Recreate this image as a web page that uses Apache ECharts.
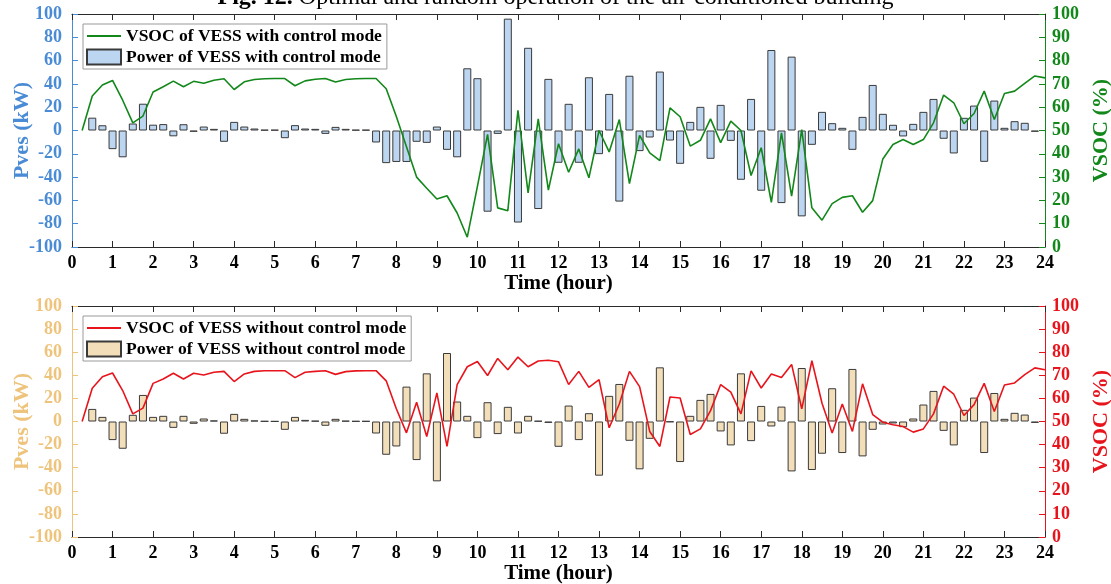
<!DOCTYPE html>
<html><head><meta charset="utf-8">
<script src="https://cdn.jsdelivr.net/npm/echarts@6/dist/echarts.min.js"></script>
<style>html,body{margin:0;padding:0;background:#fff}#c{width:1111px;height:584px}</style>
</head><body><div id="c"></div>
<script>
// Time grid (hours): bars every 15 min from 0.5 h, VSOC points every 15 min from 0.25 h
const barStartHour = 0.5;
const lineStartHour = 0.25;
const stepHour = 0.25;

const powerWithControl = [
 11, 4.5, -16, -23, 6, 23, 5, 5.5, -5, 5.4, -1.1, 3.4, 1.4, -9.7, 7.4, 3.4, 1.7, 0.6, 0.6, -6.6,
 4.6, 1.7, 1.4, -2.9, 3.1, 1.4, 0.6, 0.6, -10.3, -28, -27, -27, -9.7, -10.6, 3.4, -16.6, -23, 53.4, 44.9, -69.7,
 -2.9, 96, -79, 71, -67.4, 44.3, -27.7, 22.9, -27.7, 45.7, -20.3, 31.4, -61, 47, -17.7, -6, 50.6, -8.6, -28.6, 7.4,
 20.3, -24.3, 22, -8.9, -42.3, 27.1, -51.7, 69.1, -62.3, 63.4, -73.7, -12.3, 16, 6.3, 2.3, -16.6, 11.7, 39.1, 14.3, 4.9,
 -5.1, 5.7, 16, 27.1, -7.1, -19.7, 10.9, 21.4, -26.9, 25.7, 2.3, 8, 6.6, -1.1
];
const powerWithoutControl = [
 10.9, 4, -16.1, -23.6, 5.8, 23, 4, 4.9, -5.5, 4.9, -2, 2.6, 0.9, -10.6, 6.6, 2.3, 0.9, 0.3, 0.2, -7.2,
 4, 1.4, 0.6, -3.7, 2.3, 0.6, 0.3, 0.3, -10.4, -28.8, -21.6, 30.2, -33.4, 41.7, -51.8, 59.3, 17.3, 4.9, -14.4, 16.7,
 -10.9, 12.7, -10.4, 4.9, 0.5, -1.2, -21.9, 13.8, -16.1, 7.2, -46.9, 22.2, 32.5, -16.7, -41.4, -15, 46.9, -0.5, -35.1, 4.9,
 18.7, 23.9, -8.6, -20.7, 41.7, -17, 13.5, -4.3, 12.9, -43.2, 46.3, -42, -27.9, 28.8, -27.3, 45.5, -30.2, -7.2, -2.6, -1.7,
 -4.9, 2.6, 14.7, 26.5, -8.1, -20.7, 10.1, 20.7, -27.3, 24.7, 2.3, 7.5, 6, -1.2
];
const vsocWithControl = [
 50, 64.8, 69.5, 71.5, 63, 53.3, 56.2, 66.5, 68.8, 71.2, 68.8, 71.1, 70.3, 71.6, 72.2, 67.6, 70.9, 71.9, 72.2, 72.3,
 72.3, 69.2, 71.3, 72, 72.3, 70.8, 71.9, 72.2, 72.3, 72.3, 67.9, 56, 43, 30, 25.2, 20.6, 22, 14.6, 4.2, 26,
 48.3, 16.8, 15.6, 58.7, 23.2, 55, 24.4, 44.3, 32.1, 42.1, 29.7, 50, 40.8, 54.7, 27.2, 47.9, 40.4, 37.1, 59.7, 55.9,
 43.3, 45.8, 55, 44.8, 54, 50, 30.7, 42.6, 19.2, 49, 21.8, 50.4, 16.8, 11.5, 18.6, 21.3, 22, 14.9, 19.9, 37.8,
 44, 46.1, 44, 46.1, 53.3, 65.2, 61.9, 52.9, 57.3, 66.9, 54.7, 65.9, 66.9, 70.2, 73.4, 72.6
];
const vsocWithoutControl = [
 50, 64.4, 69.4, 71, 63.4, 53.3, 55.8, 66.5, 68.4, 70.9, 68.4, 70.9, 70.1, 71.3, 71.7, 67.3, 70.6, 71.7, 72, 72,
 72, 69, 71.3, 71.7, 72, 70.4, 71.6, 71.9, 72, 72, 67.6, 55.5, 45.1, 58.3, 43.5, 62.4, 39.2, 66, 73.7, 76,
 69.9, 77.3, 72.4, 77.9, 73.7, 76.2, 76.5, 75.9, 66, 71.7, 64.8, 68.1, 47.3, 57.6, 71.7, 65.1, 45.7, 39.2, 60.6, 60.2,
 44.4, 46.8, 54.7, 66, 62.7, 53.3, 71.9, 64.5, 70.6, 69, 74.7, 55.5, 76.3, 57.9, 45, 57.6, 45.7, 66.3, 53, 49.7,
 48.6, 47.8, 45.4, 46.8, 53.3, 65.3, 61.8, 52.6, 57.3, 66.5, 54.3, 65.8, 66.7, 70.3, 73.2, 72.4
];

const nameLineWith = 'VSOC of VESS with control mode';
const nameBarWith = 'Power of VESS with control mode';
const nameLineWithout = 'VSOC of VESS without control mode';
const nameBarWithout = 'Power of VESS without control mode';
const titleBold = 'Fig. 12.';
const titleRest = ' Optimal and random operation of the air-conditioned building';
const xName = 'Time (hour)';
const yLeftName = 'Pves (kW)';
const yRightName = 'VSOC (%)';

const F = 'Liberation Serif';
const BLUE = '#4a8bd6', TAN = '#eec47c', GREEN = '#12871a', RED = '#e8141c';
const BAR_BLUE = '#bcd6f2', BAR_TAN = '#f3deba', EDGE = '#3a3a3a', DARK = '#2a2a2a';

const toPairs = (arr, start) => arr.map((v, i) => [start + i * stepHour, v]);

function xAxes(g) {
  return [
    { type: 'value', gridIndex: g, min: 0, max: 24, interval: 1, position: 'bottom',
      axisLine: { show: true, onZero: false, lineStyle: { color: DARK, width: 1 } },
      axisTick: { show: true, inside: true, length: 6, lineStyle: { color: DARK } },
      axisLabel: { show: true, color: '#000', fontFamily: F, fontWeight: 'bold', fontSize: 18, margin: 7, showMinLabel: true, showMaxLabel: true },
      splitLine: { show: false },
      name: xName, nameLocation: 'middle', nameGap: 22,
      nameTextStyle: { color: '#000', fontFamily: F, fontWeight: 'bold', fontSize: 21 } },
    { type: 'value', gridIndex: g, min: 0, max: 24, interval: 1, position: 'top',
      axisLine: { show: true, onZero: false, lineStyle: { color: DARK, width: 1 } },
      axisTick: { show: true, inside: true, length: 6, lineStyle: { color: DARK } },
      axisLabel: { show: false }, splitLine: { show: false } }
  ];
}
function yAxes(g, leftColor, rightColor) {
  return [
    { type: 'value', gridIndex: g, min: -100, max: 100, interval: 20, position: 'left',
      axisLine: { show: true, onZero: false, lineStyle: { color: leftColor, width: 1 } },
      axisTick: { show: true, inside: true, length: 6, lineStyle: { color: leftColor } },
      axisLabel: { color: leftColor, fontFamily: F, fontWeight: 'bold', fontSize: 18, margin: 10, showMinLabel: true, showMaxLabel: true },
      splitLine: { show: false },
      name: yLeftName, nameLocation: 'middle', nameGap: 39, nameMoveOverlap: false,
      nameTextStyle: { color: leftColor, fontFamily: F, fontWeight: 'bold', fontSize: 22 } },
    { type: 'value', gridIndex: g, min: 0, max: 100, interval: 10, position: 'right',
      axisLine: { show: true, onZero: false, lineStyle: { color: rightColor, width: 1 } },
      axisTick: { show: true, inside: true, length: 6, lineStyle: { color: rightColor } },
      axisLabel: { color: rightColor, fontFamily: F, fontWeight: 'bold', fontSize: 18, margin: 7, showMinLabel: true, showMaxLabel: true },
      splitLine: { show: false },
      name: yRightName, nameLocation: 'middle', nameGap: 44,
      nameTextStyle: { color: rightColor, fontFamily: F, fontWeight: 'bold', fontSize: 22 } }
  ];
}
function legend(top, lineName, barName) {
  return {
    left: 83, top: top, orient: 'vertical', padding: [3, 5, 3, 3], itemGap: 3,
    itemWidth: 34, itemHeight: 15, borderColor: '#9a9a9a', borderWidth: 1, backgroundColor: '#fff',
    textStyle: { fontFamily: F, fontWeight: 'bold', fontSize: 17.5, color: '#000' },
    data: [ { name: lineName, itemStyle: { opacity: 0 } }, { name: barName, icon: 'rect' } ]
  };
}

const chart = echarts.init(document.getElementById('c'), null, { renderer: 'canvas' });
chart.setOption({
  animation: false,
  backgroundColor: '#fff',
  title: {
    text: '{b|' + titleBold + '}{r|' + titleRest + '}', left: 'center', top: -19,
    textStyle: { rich: {
      b: { fontFamily: F, fontWeight: 'bold', fontSize: 24, color: '#000' },
      r: { fontFamily: F, fontWeight: 'normal', fontSize: 24, color: '#000' } } }
  },
  legend: [ legend(24, nameLineWith, nameBarWith), legend(316, nameLineWithout, nameBarWithout) ],
  grid: [
    { left: 72, right: 66, top: 14, height: 233, outerBoundsMode: 'none', containLabel: false },
    { left: 72, right: 66, top: 306, height: 231, outerBoundsMode: 'none', containLabel: false }
  ],
  xAxis: [...xAxes(0), ...xAxes(1)],
  yAxis: [...yAxes(0, BLUE, GREEN), ...yAxes(1, TAN, RED)],
  series: [
    { name: nameBarWith, type: 'bar', xAxisIndex: 0, yAxisIndex: 0, barWidth: 8,
      itemStyle: { color: BAR_BLUE, borderColor: EDGE, borderWidth: 1 },
      data: toPairs(powerWithControl, barStartHour), z: 2 },
    { name: nameLineWith, type: 'line', xAxisIndex: 0, yAxisIndex: 1, showSymbol: false, symbol: 'none',
      lineStyle: { color: GREEN, width: 1.6 }, itemStyle: { color: GREEN },
      data: toPairs(vsocWithControl, lineStartHour), z: 5 },
    { name: nameBarWithout, type: 'bar', xAxisIndex: 2, yAxisIndex: 2, barWidth: 8,
      itemStyle: { color: BAR_TAN, borderColor: EDGE, borderWidth: 1 },
      data: toPairs(powerWithoutControl, barStartHour), z: 2 },
    { name: nameLineWithout, type: 'line', xAxisIndex: 2, yAxisIndex: 3, showSymbol: false, symbol: 'none',
      lineStyle: { color: RED, width: 1.6 }, itemStyle: { color: RED },
      data: toPairs(vsocWithoutControl, lineStartHour), z: 5 }
  ]
});
</script>
</body></html>
